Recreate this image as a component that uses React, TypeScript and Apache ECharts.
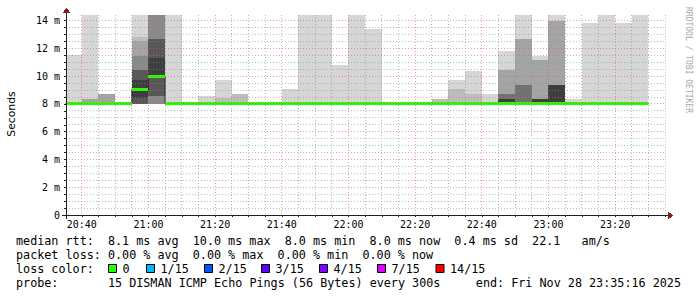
import React, { useEffect, useRef } from "react";
import * as echarts from "echarts";

// ---- data ----
// slot start, minutes after 20:00 (5 minute steps)
const slotStartMin = [
  35, 40, 45, 50, 55, 60, 65, 70, 75, 80, 85, 90, 95, 100, 105, 110, 115, 120,
  125, 130, 135, 140, 145, 150, 155, 160, 165, 170, 175, 180, 185, 190, 195, 200,
  205, 210,
];

// 15 sorted ping rtts (ms) per slot; null = no data
const pings: (number[] | null)[] = [
  [8, 8, 8, 8, 8, 8, 8, 8, 8, 8, 8, 8, 8, 8, 11.5],
  [8, 8, 8, 8, 8, 8, 8, 8, 8, 8, 8, 8, 8.35, 8.35, 16],
  [8, 8, 8, 8, 8, 8, 8, 8, 8, 8, 8, 8, 8.7, 8.7, 8.7],
  [8, 8, 8, 8, 8, 8, 8, 8, 8, 8, 8, 8, 8, 8, 8],
  [8, 8, 8, 8, 8, 8, 8.4, 9.05, 9.75, 10.45, 10.45, 11.45, 12.55, 12.8, 16],
  [8, 8, 8, 8, 8.6, 8.6, 9.9, 10.0, 11.3, 12.7, 12.7, 16, 16, 16, 16],
  [8, 8, 8, 8, 8, 8, 8, 8, 8, 8, 8, 8, 8, 8, 16],
  [8, 8, 8, 8, 8, 8, 8, 8, 8, 8, 8, 8, 8, 8, 8],
  [8, 8, 8, 8, 8, 8, 8, 8, 8, 8, 8, 8, 8, 8, 8.6],
  [8, 8, 8, 8, 8, 8, 8, 8, 8, 8, 8, 8, 8, 8.4, 9.7],
  [8, 8, 8, 8, 8, 8, 8, 8, 8, 8, 8, 8, 8, 8.7, 8.7],
  [8, 8, 8, 8, 8, 8, 8, 8, 8, 8, 8, 8, 8, 8, 8],
  [8, 8, 8, 8, 8, 8, 8, 8, 8, 8, 8, 8, 8, 8, 8],
  [8, 8, 8, 8, 8, 8, 8, 8, 8, 8, 8, 8, 8, 8, 9.1],
  [8, 8, 8, 8, 8, 8, 8, 8, 8, 8, 8, 8, 8, 8, 16],
  [8, 8, 8, 8, 8, 8, 8, 8, 8, 8, 8, 8, 8, 8, 16],
  [8, 8, 8, 8, 8, 8, 8, 8, 8, 8, 8, 8, 8, 8, 10.8],
  [8, 8, 8, 8, 8, 8, 8, 8, 8, 8, 8, 8, 8, 8, 16],
  [8, 8, 8, 8, 8, 8, 8, 8, 8, 8, 8, 8, 8, 8, 13.4],
  [8, 8, 8, 8, 8, 8, 8, 8, 8, 8, 8, 8, 8, 8, 8],
  [8, 8, 8, 8, 8, 8, 8, 8, 8, 8, 8, 8, 8, 8, 8],
  [8, 8, 8, 8, 8, 8, 8, 8, 8, 8, 8, 8, 8, 8, 8],
  [8, 8, 8, 8, 8, 8, 8, 8, 8, 8, 8, 8, 8, 8.35, 8.35],
  [8, 8, 8, 8, 8, 8, 8, 8, 8, 8, 8, 8, 8, 9.1, 9.75],
  [8, 8, 8, 8, 8, 8, 8, 8, 8, 8, 8, 8, 8, 8.7, 10.4],
  [8, 8, 8, 8, 8, 8, 8, 8, 8, 8, 8, 8, 8, 8, 8.7],
  [8, 8, 8, 8, 8, 8, 8, 8, 8.37, 8.37, 8.72, 8.72, 10.46, 10.46, 11.82],
  [8, 8, 8, 8, 8, 8, 8, 8, 8, 8, 9.37, 9.37, 12.66, 12.66, 16],
  [8, 8, 8, 8, 8, 8, 8, 8, 8.37, 8.37, 8.37, 8.37, 11.17, 11.17, 11.48],
  [8, 8, 8, 8, 8, 8, 8, 8, 9.37, 9.37, 9.37, 9.37, 14, 14, 16],
  [8, 8, 8, 8, 8, 8, 8, 8, 8, 8, 8, 8, 8, 8, 8.38],
  [8, 8, 8, 8, 8, 8, 8, 8, 8, 8, 8, 8, 8, 8, 13.83],
  [8, 8, 8, 8, 8, 8, 8, 8, 8, 8, 8, 8, 8, 8, 16],
  [8, 8, 8, 8, 8, 8, 8, 8, 8, 8, 8, 8, 8, 8, 13.83],
  [8, 8, 8, 8, 8, 8, 8, 8, 8, 8, 8, 8, 8, 8, 16],
  null,
];

const xMajorTicks = [40, 60, 80, 100, 120, 140, 160, 180, 200];
const xTickLabels = ["20:40", "21:00", "21:20", "21:40", "22:00", "22:20", "22:40", "23:00", "23:20"];
const yMajorTicks = [0, 2, 4, 6, 8, 10, 12, 14];
const yTickLabels = ["0", "2 m", "4 m", "6 m", "8 m", "10 m", "12 m", "14 m"];

const rttLegend = [
  ["median rtt:", 0],
  ["8.1 ms avg", 13],
  ["10.0 ms max", 25],
  ["8.0 ms min", 38],
  ["8.0 ms now", 50],
  ["0.4 ms sd", 62],
  ["22.1", 73],
  ["am/s", 80],
] as const;
const lossLegend = [
  ["packet loss:", 0],
  ["0.00 % avg", 13],
  ["0.00 % max", 25],
  ["0.00 % min", 37],
  ["0.00 % now", 49],
] as const;
const lossLabels = ["0", "1/15", "2/15", "3/15", "4/15", "7/15", "14/15"];
const lossColors = ["#26ff00", "#00b8ff", "#0059ff", "#5e00ff", "#7e00ff", "#dd00ff", "#ff0000"];
const lossBoxX = [108, 146, 204, 261, 319, 377, 435.5];
const probeText = "15 DISMAN ICMP Echo Pings (56 Bytes) every 300s";
const endText = "end: Fri Nov 28 23:35:16 2025";

// ---- styles / layout ----
const layerColors = ["#d6d6d6", "#bdbdbd", "#a4a4a4", "#8a8a8a", "#717171", "#585858", "#3e3e3e"];
const MEDIAN_GREEN = "#26ff00";
const GRID = { left: 66, top: 15, width: 600, height: 200 };
const X_MIN = 35 + 16 / 60;
const X_MAX = X_MIN + 180;
const Y_MAX = 14.41;
const SLOT = 5;
const MONO = "DejaVu Sans Mono";
const LEG_FS = 11.75;
const CW = 7.07;
const ROW_Y = [241, 255, 269, 283];
const MINOR_GRID = "rgba(140,140,140,0.6)";
const MAJOR_GRID = "rgba(222,79,79,0.55)";
const AXIS_COLOR = "#202020";
const ARROW_COLOR = "#7f1f1f";

// axis frame (lines + arrow heads) built from rects around the coordinate system
function axisFrame(cs: any) {
  const ox = Math.round(cs.x);
  const oy = Math.round(cs.y + cs.height);
  const right = Math.round(cs.x + cs.width);
  const top = Math.round(cs.y);
  const out: any[] = [
    { type: "rect", shape: { x: ox - 4, y: oy, width: right - ox + 8, height: 1 }, style: { fill: AXIS_COLOR } },
    { type: "rect", shape: { x: ox, y: top - 4, width: 1, height: oy - top + 8 }, style: { fill: AXIS_COLOR } },
  ];
  const steps = [[0, 7], [1, 5], [2, 5], [3, 3], [4, 1]];
  steps.forEach(([d, h]) => {
    out.push({ type: "rect", shape: { x: right + 2 + d, y: oy - (h - 1) / 2, width: 1, height: h }, style: { fill: ARROW_COLOR } });
    out.push({ type: "rect", shape: { x: ox - (h - 1) / 2, y: top - 3 - d, width: h, height: 1 }, style: { fill: ARROW_COLOR } });
  });
  return out;
}

function buildOption() {
  const gridData: number[][] = [];
  for (let m = 40; m <= X_MAX; m += 5) if (m % 20 !== 0) gridData.push([m, 0, 0, 0]);
  for (let v = 0.5; v <= 14; v += 0.5) if (v % 2 !== 0) gridData.push([X_MIN, v, 1, 0]);
  xMajorTicks.forEach((m) => gridData.push([m, 0, 0, 1]));
  yMajorTicks.filter((v) => v > 0).forEach((v) => gridData.push([X_MIN, v, 1, 1]));

  const xTickVals: number[] = [];
  for (let m = 40; m <= X_MAX; m += 5) xTickVals.push(m);
  const yTickVals: number[] = [];
  for (let v = 0; v <= 14; v += 0.5) yTickVals.push(v);

  const stepData: any[] = [];
  pings.forEach((p, k) => {
    if (!p) return;
    stepData.push([slotStartMin[k], p[7]]);
    const next = pings[k + 1];
    if (!next) {
      stepData.push([slotStartMin[k] + SLOT, p[7]]);
      stepData.push([null, null]);
    }
  });

  const slotData = slotStartMin.map((s, i) => [s, i]);

  const graphic: any[] = [];
  graphic.push({
    type: "text", x: 11, y: 114, rotation: Math.PI / 2,
    style: { text: "Seconds", fontFamily: "DejaVu Sans", fontSize: 10.8, fill: "#000", align: "center", verticalAlign: "middle" },
  });
  graphic.push({
    type: "text", x: 688, y: 60, rotation: -Math.PI / 2,
    style: { text: "RRDTOOL / TOBI OETIKER", fontFamily: MONO, fontSize: 8, fill: "#a8a8a8", align: "center", verticalAlign: "middle" },
  });

  const legText = (text: string, x: number, y: number, align = "left") => ({
    type: "text", x, y,
    style: { text, fontFamily: MONO, fontSize: LEG_FS, fill: "#000", align, verticalAlign: "middle" },
  });
  rttLegend.forEach(([t, c]) => graphic.push(legText(t, 16 + c * CW, ROW_Y[0])));
  lossLegend.forEach(([t, c]) => graphic.push(legText(t, 16 + c * CW, ROW_Y[1])));
  graphic.push(legText("loss color:", 16, ROW_Y[2]));
  lossLabels.forEach((t, i) => {
    graphic.push({
      type: "rect",
      shape: { x: lossBoxX[i] + 0.5, y: ROW_Y[2] - 4.5, width: 8, height: 8 },
      style: { fill: lossColors[i], stroke: "#000", lineWidth: 1 },
    });
    graphic.push(legText(t, lossBoxX[i] + 14.5, ROW_Y[2]));
  });
  graphic.push(legText("probe:", 16, ROW_Y[3]));
  graphic.push(legText(probeText, 16 + 13 * CW, ROW_Y[3]));
  graphic.push(legText(endText, 681, ROW_Y[3], "right"));

  return {
    animation: false,
    grid: { ...GRID },
    xAxis: {
      type: "value", min: X_MIN, max: X_MAX,
      axisLine: { show: true, onZero: false, lineStyle: { color: AXIS_COLOR, width: 1 } },
      splitLine: { show: false },
      axisTick: { show: true, customValues: xTickVals, length: 2, lineStyle: { color: AXIS_COLOR } },
      axisLabel: {
        customValues: xMajorTicks,
        formatter: (v: number) => xTickLabels[xMajorTicks.indexOf(Math.round(v))] ?? "",
        fontFamily: MONO, fontSize: 10, color: "#000", margin: 4,
      },
    },
    yAxis: {
      type: "value", min: 0, max: Y_MAX,
      axisLine: { show: true, onZero: false, lineStyle: { color: AXIS_COLOR, width: 1 } },
      splitLine: { show: false },
      axisTick: { show: true, customValues: yTickVals, length: 2, lineStyle: { color: AXIS_COLOR } },
      axisLabel: {
        customValues: yMajorTicks,
        formatter: (v: number) => yTickLabels[yMajorTicks.indexOf(Math.round(v))] ?? "",
        fontFamily: MONO, fontSize: 10, color: "#000", margin: 6,
      },
    },
    graphic,
    series: [
      {
        type: "custom", name: "smoke", z: 1, silent: true, clip: false,
        coordinateSystem: "cartesian2d",
        encode: { x: 0, y: 1 },
        data: slotData,
        renderItem: (params: any, api: any) => {
          const idx = api.value(1);
          const p = pings[idx];
          const children: any[] = [];
          if (p) {
            const s = Math.max(api.value(0), X_MIN);
            const e = Math.min(api.value(0) + SLOT, X_MAX);
            for (let j = 0; j < 7; j++) {
              const lo = Math.min(p[j], Y_MAX);
              const hi = Math.min(p[14 - j], Y_MAX);
              if (hi <= lo) continue;
              const a = api.coord([s, hi]);
              const b = api.coord([e, lo]);
              const x0 = Math.round(a[0]);
              const x1 = Math.round(b[0]);
              const y0 = Math.round(a[1]);
              const y1 = Math.round(b[1]);
              if (y1 <= y0) continue;
              children.push({ type: "rect", shape: { x: x0, y: y0, width: x1 - x0, height: y1 - y0 }, style: { fill: layerColors[j] } });
            }
          }
          return { type: "group", children };
        },
      },
      {
        type: "line", name: "median-step", z: 2, silent: true,
        data: stepData, step: "end", symbol: "none", connectNulls: false,
        lineStyle: { color: AXIS_COLOR, width: 1 },
      },
      {
        type: "custom", name: "median", z: 3, silent: true,
        coordinateSystem: "cartesian2d",
        encode: { x: 0, y: 1 },
        data: slotData,
        renderItem: (params: any, api: any) => {
          const idx = api.value(1);
          const p = pings[idx];
          if (!p) return null;
          const s = Math.max(api.value(0), X_MIN);
          const e = Math.min(api.value(0) + SLOT, X_MAX);
          const a = api.coord([s, p[7]]);
          const b = api.coord([e, p[7]]);
          const x0 = Math.round(a[0]);
          const x1 = Math.round(b[0]);
          const y0 = Math.round(a[1] - 1.5);
          return { type: "rect", shape: { x: x0, y: y0, width: x1 - x0, height: 3 }, style: { fill: MEDIAN_GREEN } };
        },
      },
      {
        type: "custom", name: "grid", z: 4, silent: true, clip: false,
        coordinateSystem: "cartesian2d",
        encode: { x: 0, y: 1 },
        data: gridData,
        renderItem: (params: any, api: any) => {
          const cs = params.coordSys;
          const pt = api.coord([api.value(0), api.value(1)]);
          const major = api.value(3) === 1;
          const style = { stroke: major ? MAJOR_GRID : MINOR_GRID, lineWidth: 1, lineDash: [1, 2] };
          const children: any[] = [];
          if (api.value(2) === 0) {
            const px = Math.floor(pt[0]) + 0.5;
            children.push({ type: "line", shape: { x1: px, y1: cs.y, x2: px, y2: cs.y + cs.height }, style });
          } else {
            const py = Math.floor(pt[1]) + 0.5;
            children.push({ type: "line", shape: { x1: cs.x, y1: py, x2: cs.x + cs.width, y2: py }, style });
          }
          // the last grid item also carries the axis frame, drawn over everything
          if (params.dataIndex === params.dataInsideLength - 1 || params.dataIndex === gridData.length - 1) {
            axisFrame(cs).forEach((el) => children.push(el));
          }
          return { type: "group", children };
        },
      },
    ],
  };
}

export default function App() {
  const ref = useRef<HTMLDivElement>(null);
  useEffect(() => {
    document.body.style.margin = "0";
    const chart = echarts.init(ref.current!, null, { renderer: "svg" });
    chart.setOption(buildOption() as any);
    return () => chart.dispose();
  }, []);
  return <div ref={ref} style={{ width: 697, height: 297, background: "#ffffff" }} />;
}
